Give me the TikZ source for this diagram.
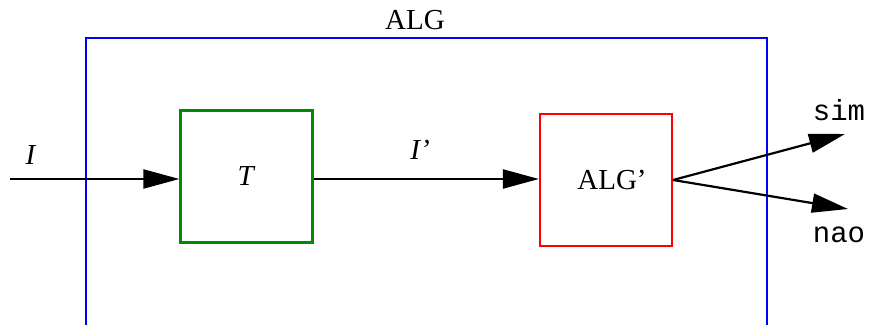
\documentclass[tikz,border=0pt]{standalone}
\usepackage{fontspec}
\setmainfont{Liberation Serif}
\setmonofont{Liberation Mono}
\usetikzlibrary{arrows.meta}
\begin{document}
\begin{tikzpicture}[x=0.5pt,y=-0.5pt,line width=1.1pt,font=\fontsize{14.5}{17}\selectfont]
        \tikzstyle{box}=[draw,rectangle,minimum size=66pt,inner sep=0pt];
        \tikzstyle{flow}=[-{Triangle[length=18pt,width=9.5pt]}];
        \useasboundingbox (0,0) rectangle (869,325);
        \draw[blue] (86,325) -- (86,38) -- (767,38) -- (767,325);
        \node (alg) at (415,20) {ALG};
        \node[box,draw=green!55!black] (t) at (246.5,176.5) {\textit{T}};
        \node[box,draw=red] (algp) at (606,180) {\hspace*{6pt}ALG'};
        \coordinate (in) at (10,179);
        \coordinate (sim) at (845,134);
        \coordinate (nao) at (848,209);
        \node (ilab) at (31,155) {\textit{I}};
        \node (iplab) at (420,150) {\textit{I'}};
        \node (simlab) at (839,110) {\texttt{sim}};
        \node (naolab) at (839,235) {\texttt{nao}};
        \draw[flow] (in) -- (t.west |- in);
        \draw[flow] (t.east |- in) -- (algp.west |- in);
        \draw[flow] (algp.east) -- (sim);
        \draw[flow] (algp.east) -- (nao);
      \end{tikzpicture}
\end{document}
